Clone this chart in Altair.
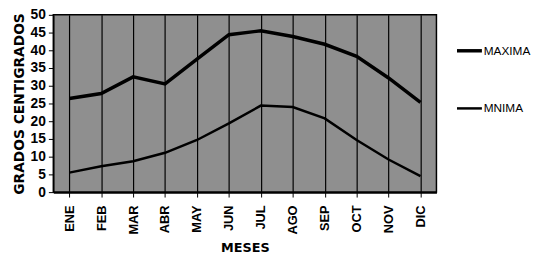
import altair as alt
import pandas as pd

meses = ["ENE", "FEB", "MAR", "ABR", "MAY", "JUN", "JUL", "AGO", "SEP", "OCT", "NOV", "DIC"]
maxima = [26.4, 27.8, 32.5, 30.5, 37.5, 44.4, 45.5, 43.9, 41.7, 38.3, 32.2, 25.3]
minima = [5.5, 7.3, 8.7, 11.1, 14.7, 19.4, 24.4, 24.0, 20.8, 14.7, 9.2, 4.5]
series = ["MAXIMA", "MNIMA"]

rows = []
for m, a, b in zip(meses, maxima, minima):
    rows.append({"mes": m, "serie": series[0], "valor": a})
    rows.append({"mes": m, "serie": series[1], "valor": b})
df = pd.DataFrame(rows)

leg = dict(title=None, orient="none", legendX=408, legendY=22,
           symbolType="stroke", symbolSize=640, symbolStrokeColor="black",
           labelFont="Liberation Sans", labelFontSize=12, labelColor="black",
           rowPadding=37, labelOffset=0)

chart = alt.Chart(df).mark_line().encode(
    x=alt.X("mes:N", sort=meses, title="MESES",
            scale=alt.Scale(paddingInner=0, paddingOuter=0),
            axis=alt.Axis(labelAngle=-90, labelFont="Liberation Sans", labelFontWeight="bold",
                          labelFontSize=13, labelColor="black", labelPadding=8,
                          titleFont="DejaVu Sans", titleFontWeight="bold", titleFontSize=13,
                          titleColor="black", titlePadding=8,
                          grid=True, gridColor="black", gridWidth=1.2, bandPosition=0,
                          tickColor="black", domainColor="black", domainWidth=2.5)),
    y=alt.Y("valor:Q", title="GRADOS CENTIGRADOS",
            scale=alt.Scale(domain=[0, 50], nice=False),
            axis=alt.Axis(values=list(range(0, 51, 5)), labelFont="Liberation Sans", labelFontWeight="bold",
                          labelFontSize=14, labelColor="black", labelPadding=3,
                          titleFont="DejaVu Sans", titleFontWeight="bold", titleFontSize=14,
                          titleColor="black", titlePadding=4,
                          grid=False, tickColor="black", domainColor="black", domainWidth=1.5)),
    color=alt.Color("serie:N", scale=alt.Scale(domain=series, range=["black", "black"]),
                    legend=alt.Legend(**leg)),
    strokeWidth=alt.StrokeWidth("serie:N", scale=alt.Scale(domain=series, range=[3.5, 2.5]),
                                legend=alt.Legend(**leg)),
).properties(
    width=389, height=180,
    autosize=alt.AutoSizeParams(type="none"),
    padding={"left": 46, "top": 5, "right": 96, "bottom": 69},
).configure_view(fill="#8f8f8f", stroke="black", strokeWidth=1.5)

chart.save("out.html", embed_options={"renderer": "svg", "actions": False})
